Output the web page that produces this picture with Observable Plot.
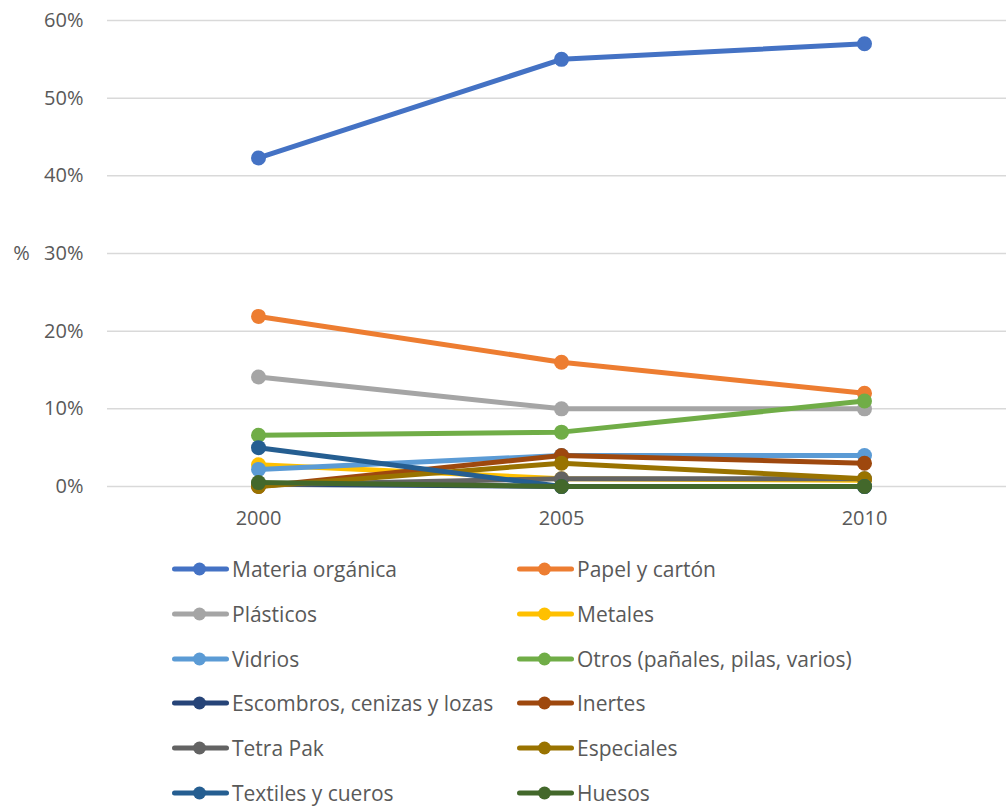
<!DOCTYPE html>
<html>
<head>
<meta charset="utf-8">
<script src="https://cdn.jsdelivr.net/npm/d3@7"></script>
<script src="https://cdn.jsdelivr.net/npm/@observablehq/plot@0.6"></script>
<style>
  html, body { margin: 0; padding: 0; background: #fff; }
  body { width: 1006px; height: 806px; overflow: hidden; font-family: "Open Sans", sans-serif; }
  #chart { position: absolute; left: 0; top: 0; }
  #legend { position: absolute; left: 172px; top: 551px; display: grid; grid-template-columns: 345px 400px; row-gap: 8.8px; }
  .item { display: flex; align-items: center; height: 36px; font-size: 21px; color: #595959; white-space: nowrap; }
  .item svg { margin-right: 3px; }
</style>
</head>
<body>
<div id="chart"></div>
<div id="legend"></div>
<script>
const years = ["2000", "2005", "2010"];
const seriesNames = [
  "Materia orgánica", "Papel y cartón", "Plásticos", "Metales", "Vidrios",
  "Otros (pañales, pilas, varios)", "Escombros, cenizas y lozas", "Inertes",
  "Tetra Pak", "Especiales", "Textiles y cueros", "Huesos"
];
const seriesColors = [
  "#4472C4", "#ED7D31", "#A5A5A5", "#FFC000", "#5B9BD5",
  "#70AD47", "#264478", "#9E480E", "#636363", "#997300", "#255E91", "#43682B"
];
const materiaOrganica = [42.3, 55, 57];
const papelCarton = [21.9, 16, 12];
const plasticos = [14.1, 10, 10];
const metales = [2.8, 1, 0.8];
const vidrios = [2.2, 4, 4];
const otros = [6.6, 7, 11];
const escombros = [0.3, 0, 0];
const inertes = [0, 4, 3];
const tetraPak = [0.2, 1, 1];
const especiales = [0, 3, 1];
const textiles = [5, 0, 0];
const huesos = [0.5, 0, 0];
const yTicks = [0, 10, 20, 30, 40, 50, 60];

const seriesValues = [materiaOrganica, papelCarton, plasticos, metales, vidrios, otros,
  escombros, inertes, tetraPak, especiales, textiles, huesos];

const data = [];
seriesNames.forEach((name, i) => {
  years.forEach((yr, j) => data.push({ serie: name, year: yr, value: seriesValues[i][j], order: i }));
});

const font = "'Open Sans', sans-serif";

const marks = [
  Plot.gridY(yTicks, { stroke: "#d9d9d9", strokeOpacity: 1, strokeWidth: 1.5 }),
  Plot.axisY(yTicks, { tickSize: 0, tickPadding: 24, tickFormat: d => d + "%", fontSize: 20, fill: "#595959", label: null }),
  Plot.axisX(years, { tickSize: 0, tickPadding: 24, fontSize: 20, fill: "#595959", label: null }),
  Plot.text(["%"], { frameAnchor: "left", y: () => 30, dx: -86, text: d => d, fontSize: 20, fill: "#595959", textAnchor: "middle" })
];
seriesNames.forEach((name, i) => {
  const d = data.filter(r => r.serie === name);
  marks.push(Plot.line(d, { x: "year", y: "value", stroke: seriesColors[i], strokeWidth: 5, strokeLinecap: "round", strokeLinejoin: "round" }));
  marks.push(Plot.dot(d, { x: "year", y: "value", fill: seriesColors[i], r: 7.5, stroke: "none" }));
});

const chart = Plot.plot({
  width: 1006,
  height: 540,
  marginLeft: 107,
  marginRight: 0,
  marginTop: 20,
  marginBottom: 54,
  style: { fontFamily: font, background: "transparent" },
  x: { type: "point", domain: years, range: [258, 864], padding: 0, label: null },
  y: { domain: [0, 60], label: null },
  marks
});
document.getElementById("chart").appendChild(chart);

const legend = document.getElementById("legend");
seriesNames.forEach((name, i) => {
  const div = document.createElement("div");
  div.className = "item";
  div.innerHTML = `<svg width="57" height="16"><line x1="2.5" y1="8" x2="54.5" y2="8" stroke="${seriesColors[i]}" stroke-width="5" stroke-linecap="round"/><circle cx="27.5" cy="8" r="6.5" fill="${seriesColors[i]}"/></svg><span>${name}</span>`;
  legend.appendChild(div);
});
</script>
</body>
</html>
